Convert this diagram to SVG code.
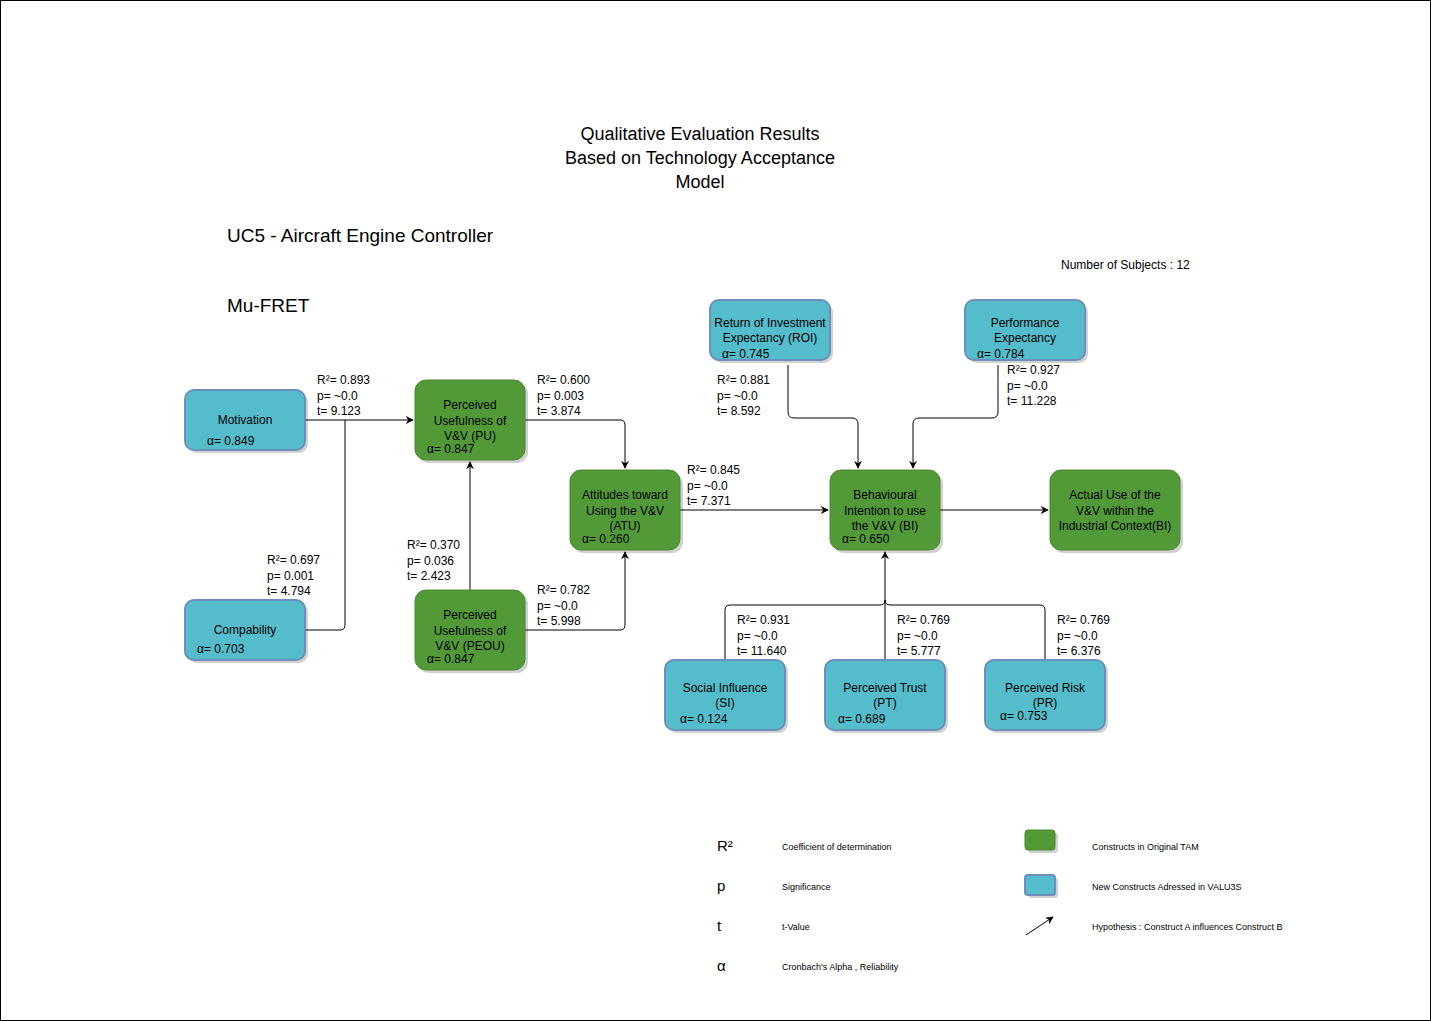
<svg xmlns="http://www.w3.org/2000/svg" width="1431" height="1021" viewBox="0 0 1431 1021">
<defs>
<style>
text{font-family:"Liberation Sans",Arial,sans-serif;fill:#000}
.s{font-size:12px}
.l{font-size:9px}
.g{fill:#529a38;stroke:#4a8a32;stroke-width:1}
.b{fill:#55bccb;stroke:#6c8ebf;stroke-width:2}
.sh{fill:#000;opacity:0.18}
.c{fill:none;stroke:#000;stroke-width:1}
</style>
<marker id="a" viewBox="0 0 10 10" refX="9" refY="5" markerWidth="8" markerHeight="8" orient="auto" markerUnits="userSpaceOnUse"><path d="M0,0 L10,5 L0,10 L3,5 Z" fill="#000"/></marker>
</defs>
<rect x="0.5" y="0.5" width="1430" height="1020" fill="#fff" stroke="#000"/>
<text x="700" y="140" font-size="18" text-anchor="middle">Qualitative Evaluation Results</text>
<text x="700" y="164" font-size="18" text-anchor="middle">Based on Technology Acceptance</text>
<text x="700" y="188" font-size="18" text-anchor="middle">Model</text>
<text x="227" y="242" font-size="19">UC5 - Aircraft Engine Controller</text>
<text x="227" y="312" font-size="19">Mu-FRET</text>
<text x="1061" y="269" class="s">Number of Subjects :  12</text>
<g id="connectors">
<path class="c" d="M305,420 H413" marker-end="url(#a)"/>
<path class="c" d="M305,630 H340 Q345,630 345,625 V420"/>
<path class="c" d="M525,420 H620 Q625,420 625,425 V468" marker-end="url(#a)"/>
<path class="c" d="M525,630 H620 Q625,630 625,625 V552" marker-end="url(#a)"/>
<path class="c" d="M470,590 V462" marker-end="url(#a)"/>
<path class="c" d="M680,510 H828" marker-end="url(#a)"/>
<path class="c" d="M940,510 H1048" marker-end="url(#a)"/>
<path class="c" d="M788,365 V412 Q788,418 794,418 H852 Q858,418 858,424 V468" marker-end="url(#a)"/>
<path class="c" d="M998,365 V412 Q998,418 992,418 H919 Q913,418 913,424 V468" marker-end="url(#a)"/>
<path class="c" d="M725,660 V610 Q725,605 730,605 H880 Q885,605 885,600 V552" marker-end="url(#a)"/>
<path class="c" d="M885,660 V600"/>
<path class="c" d="M1045,660 V610 Q1045,605 1040,605 H890 Q885,605 885,600"/>
</g>
<g id="motivation"><rect class="sh" x="188" y="393" width="120" height="60" rx="9"/><rect class="b" x="185" y="390" width="120" height="60" rx="9"/><text x="245" y="424" class="s" text-anchor="middle">Motivation</text><text x="207" y="445" class="s">α= 0.849</text></g>
<g id="compability"><rect class="sh" x="188" y="603" width="120" height="60" rx="9"/><rect class="b" x="185" y="600" width="120" height="60" rx="9"/><text x="245" y="634" class="s" text-anchor="middle">Compability</text><text x="197" y="653" class="s">α= 0.703</text></g>
<g id="pu"><rect class="sh" x="418" y="383" width="110" height="80" rx="11"/><rect class="g" x="415" y="380" width="110" height="80" rx="11"/><text x="470" y="409" class="s" text-anchor="middle">Perceived</text><text x="470" y="425" class="s" text-anchor="middle">Usefulness of</text><text x="470" y="440" class="s" text-anchor="middle">V&amp;V (PU)</text><text x="427" y="453" class="s">α= 0.847</text></g>
<g id="peou"><rect class="sh" x="418" y="593" width="110" height="80" rx="11"/><rect class="g" x="415" y="590" width="110" height="80" rx="11"/><text x="470" y="619" class="s" text-anchor="middle">Perceived</text><text x="470" y="635" class="s" text-anchor="middle">Usefulness of</text><text x="470" y="650" class="s" text-anchor="middle">V&amp;V (PEOU)</text><text x="427" y="663" class="s">α= 0.847</text></g>
<g id="atu"><rect class="sh" x="573" y="473" width="110" height="80" rx="11"/><rect class="g" x="570" y="470" width="110" height="80" rx="11"/><text x="625" y="499" class="s" text-anchor="middle">Attitudes toward</text><text x="625" y="515" class="s" text-anchor="middle">Using the V&amp;V</text><text x="625" y="530" class="s" text-anchor="middle">(ATU)</text><text x="582" y="543" class="s">α= 0.260</text></g>
<g id="roi"><rect class="sh" x="713" y="303" width="120" height="60" rx="9"/><rect class="b" x="710" y="300" width="120" height="60" rx="9"/><text x="770" y="327" class="s" text-anchor="middle">Return of Investment</text><text x="770" y="342" class="s" text-anchor="middle">Expectancy (ROI)</text><text x="722" y="358" class="s">α= 0.745</text></g>
<g id="pe"><rect class="sh" x="968" y="303" width="120" height="60" rx="9"/><rect class="b" x="965" y="300" width="120" height="60" rx="9"/><text x="1025" y="327" class="s" text-anchor="middle">Performance</text><text x="1025" y="342" class="s" text-anchor="middle">Expectancy</text><text x="977" y="358" class="s">α= 0.784</text></g>
<g id="bi"><rect class="sh" x="833" y="473" width="110" height="80" rx="11"/><rect class="g" x="830" y="470" width="110" height="80" rx="11"/><text x="885" y="499" class="s" text-anchor="middle">Behavioural</text><text x="885" y="515" class="s" text-anchor="middle">Intention to use</text><text x="885" y="530" class="s" text-anchor="middle">the V&amp;V (BI)</text><text x="842" y="543" class="s">α= 0.650</text></g>
<g id="au"><rect class="sh" x="1053" y="473" width="130" height="80" rx="11"/><rect class="g" x="1050" y="470" width="130" height="80" rx="11"/><text x="1115" y="499" class="s" text-anchor="middle">Actual Use of the</text><text x="1115" y="515" class="s" text-anchor="middle">V&amp;V within the</text><text x="1115" y="530" class="s" text-anchor="middle">Industrial Context(BI)</text></g>
<g id="si"><rect class="sh" x="668" y="663" width="120" height="70" rx="9"/><rect class="b" x="665" y="660" width="120" height="70" rx="9"/><text x="725" y="692" class="s" text-anchor="middle">Social Influence</text><text x="725" y="707" class="s" text-anchor="middle">(SI)</text><text x="680" y="723" class="s">α= 0.124</text></g>
<g id="pt"><rect class="sh" x="828" y="663" width="120" height="70" rx="9"/><rect class="b" x="825" y="660" width="120" height="70" rx="9"/><text x="885" y="692" class="s" text-anchor="middle">Perceived Trust</text><text x="885" y="707" class="s" text-anchor="middle">(PT)</text><text x="838" y="723" class="s">α= 0.689</text></g>
<g id="pr"><rect class="sh" x="988" y="663" width="120" height="70" rx="9"/><rect class="b" x="985" y="660" width="120" height="70" rx="9"/><text x="1045" y="692" class="s" text-anchor="middle">Perceived Risk</text><text x="1045" y="707" class="s" text-anchor="middle">(PR)</text><text x="1000" y="720" class="s">α= 0.753</text></g>
<g id="stats" class="s">
<text x="317" y="384" class="s">R²= 0.893</text><text x="317" y="400" class="s">p= ~0.0</text><text x="317" y="415" class="s">t= 9.123</text>
<text x="267" y="564" class="s">R²= 0.697</text><text x="267" y="580" class="s">p= 0.001</text><text x="267" y="595" class="s">t= 4.794</text>
<text x="537" y="384" class="s">R²= 0.600</text><text x="537" y="400" class="s">p= 0.003</text><text x="537" y="415" class="s">t= 3.874</text>
<text x="407" y="549" class="s">R²= 0.370</text><text x="407" y="565" class="s">p= 0.036</text><text x="407" y="580" class="s">t= 2.423</text>
<text x="537" y="594" class="s">R²= 0.782</text><text x="537" y="610" class="s">p= ~0.0</text><text x="537" y="625" class="s">t= 5.998</text>
<text x="687" y="474" class="s">R²= 0.845</text><text x="687" y="490" class="s">p= ~0.0</text><text x="687" y="505" class="s">t= 7.371</text>
<text x="717" y="384" class="s">R²= 0.881</text><text x="717" y="400" class="s">p= ~0.0</text><text x="717" y="415" class="s">t= 8.592</text>
<text x="1007" y="374" class="s">R²= 0.927</text><text x="1007" y="390" class="s">p= ~0.0</text><text x="1007" y="405" class="s">t= 11.228</text>
<text x="737" y="624" class="s">R²= 0.931</text><text x="737" y="640" class="s">p= ~0.0</text><text x="737" y="655" class="s">t= 11.640</text>
<text x="897" y="624" class="s">R²= 0.769</text><text x="897" y="640" class="s">p= ~0.0</text><text x="897" y="655" class="s">t= 5.777</text>
<text x="1057" y="624" class="s">R²= 0.769</text><text x="1057" y="640" class="s">p= ~0.0</text><text x="1057" y="655" class="s">t= 6.376</text>
</g>
<g id="legend">
<text x="717" y="851" font-size="15">R²</text>
<text x="717" y="891" font-size="15">p</text>
<text x="717" y="931" font-size="15">t</text>
<text x="717" y="971" font-size="15">α</text>
<text x="782" y="850" class="l">Coefficient of determination</text>
<text x="782" y="890" class="l">Significance</text>
<text x="782" y="930" class="l">t-Value</text>
<text x="782" y="970" class="l">Cronbach's Alpha , Reliability</text>
<rect class="sh" x="1028" y="833" width="30" height="20" rx="3"/><rect class="g" x="1025" y="830" width="30" height="20" rx="3"/>
<rect class="sh" x="1028" y="878" width="30" height="20" rx="3"/><rect class="b" x="1025" y="875" width="30" height="20" rx="3"/>
<path class="c" d="M1026,935 L1053,917" marker-end="url(#a)"/>
<text x="1092" y="850" class="l">Constructs in Original TAM</text>
<text x="1092" y="890" class="l">New Constructs Adressed in VALU3S</text>
<text x="1092" y="930" class="l">Hypothesis : Construct A influences Construct B</text>
</g>
</svg>
